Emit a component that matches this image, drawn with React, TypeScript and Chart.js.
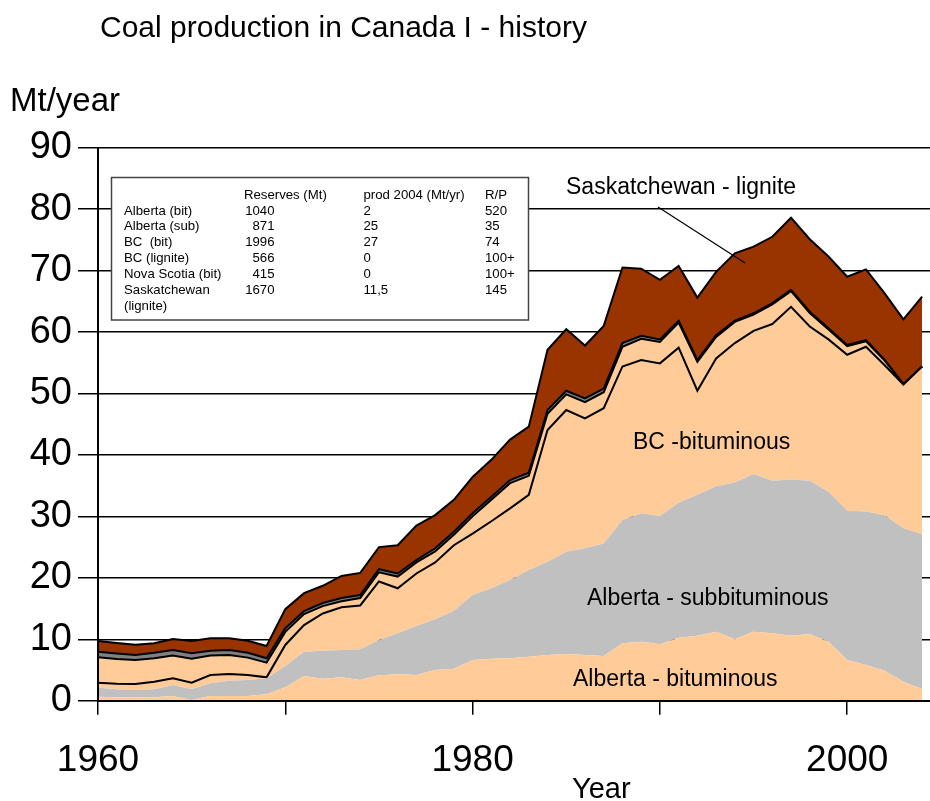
import { useEffect, useRef } from 'react';
import { Chart, registerables } from 'chart.js';

Chart.register(...registerables);

const years = [
  1960, 1961, 1962, 1963, 1964, 1965, 1966, 1967, 1968, 1969,
  1970, 1971, 1972, 1973, 1974, 1975, 1976, 1977, 1978, 1979,
  1980, 1981, 1982, 1983, 1984, 1985, 1986, 1987, 1988, 1989,
  1990, 1991, 1992, 1993, 1994, 1995, 1996, 1997, 1998, 1999,
  2000, 2001, 2002, 2003, 2004,
];

const albertaBituminous = [
  0.65, 0.55, 0.55, 0.55, 0.76, 0.11, 0.76, 0.76, 0.76, 1.04,
  2.18, 4.02, 3.58, 3.8, 3.37, 4.13, 4.3, 4.2, 5.0, 5.2,
  6.62, 6.84, 6.9, 7.16, 7.44, 7.6, 7.44, 7.27, 9.34, 9.6,
  9.18, 10.25, 10.58, 11.23, 9.99, 11.23, 10.97, 10.58, 10.86, 9.6,
  6.62, 5.81, 4.88, 3.1, 1.9,
];

const albertaSubbituminous = [
  1.47, 1.3, 1.19, 1.3, 1.8, 1.74, 2.07, 2.5, 2.61, 2.6,
  3.47, 3.96, 4.56, 4.45, 4.99, 5.75, 6.67, 7.96, 8.25, 9.45,
  10.58, 11.46, 12.74, 14.11, 15.16, 16.65, 17.36, 18.33, 20.06, 20.9,
  20.88, 21.95, 22.92, 23.67, 25.51, 25.67, 24.83, 25.42, 24.94, 24.4,
  24.28, 24.99, 25.32, 24.96, 25.2,
];

const bcBituminous = [
  0.81, 0.92, 0.97, 1.24, 1.08, 1.08, 1.35, 1.08, 0.81, 0.16,
  3.42, 4.32, 6.06, 6.95, 7.14, 9.52, 7.33, 8.54, 9.25, 10.65,
  10.0, 10.9, 11.66, 12.23, 21.46, 23.05, 21.16, 22.0, 25.0, 24.95,
  24.84, 25.25, 16.95, 20.8, 22.7, 23.3, 25.5, 28.1, 25.1, 24.8,
  25.4, 26.8, 24.4, 23.4, 27.3,
];

const novaScotia = [
  4.15, 4.03, 3.93, 3.81, 3.71, 3.88, 3.16, 3.11, 2.83, 2.4,
  2.13, 1.8, 1.2, 1.0, 1.2, 1.5, 1.9, 1.8, 1.8, 1.7,
  2.8, 3.5, 4.1, 3.1, 2.64, 2.55, 2.64, 2.6, 3.2, 3.45,
  3.5, 4.1, 4.7, 3.5, 3.45, 2.65, 3.2, 2.55, 2.2, 1.6,
  1.4, 0.9, 0.75, 0.05, 0,
];

const newBrunswick = [
  0.9, 0.9, 0.8, 0.9, 0.9, 0.9, 0.8, 0.8, 0.8, 0.7,
  0.6, 0.5, 0.5, 0.5, 0.5, 0.5, 0.5, 0.4, 0.5, 0.5,
  0.5, 0.5, 0.5, 0.5, 0.6, 0.6, 0.6, 0.6, 0.6, 0.5,
  0.4, 0.3, 0.3, 0.3, 0.2, 0.2, 0.2, 0.2, 0.2, 0.2,
  0.2, 0.2, 0.1, 0, 0,
];

const saskatchewanLignite = [
  1.74, 1.7, 1.68, 1.54, 1.79, 2.01, 2.01, 1.9, 1.96, 2.0,
  3.1, 2.9, 2.8, 3.6, 3.6, 3.6, 4.6, 5.6, 5.4, 5.2,
  5.9, 6.0, 6.6, 7.5, 9.8, 10.0, 8.6, 10.2, 12.3, 10.9,
  9.7, 8.9, 10.15, 10.3, 10.95, 10.85, 10.8, 11.75, 11.8, 11.7,
  11.1, 11.5, 10.85, 10.55, 11.35,
];

const xLabelYears = [1960, 1980, 2000];

const tableHeader = ['', 'Reserves (Mt)', 'prod 2004 (Mt/yr)', 'R/P'];
const tableRows = [
  ['Alberta (bit)', '1040', '2', '520'],
  ['Alberta (sub)', '871', '25', '35'],
  ['BC  (bit)', '1996', '27', '74'],
  ['BC (lignite)', '566', '0', '100+'],
  ['Nova Scotia (bit)', '415', '0', '100+'],
  ['Saskatchewan', '1670', '11,5', '145'],
  ['(lignite)', '', '', ''],
];

const FONT = '"Liberation Sans", Arial, Helvetica, sans-serif';

const textPlugin = {
  id: 'textPlugin',
  afterDraw(chart: any) {
    const ctx: CanvasRenderingContext2D = chart.ctx;
    ctx.save();
    ctx.fillStyle = '#000';
    ctx.textBaseline = 'alphabetic';
    ctx.textAlign = 'left';

    ctx.font = `30px ${FONT}`;
    ctx.fillText('Coal production in Canada I - history', 100, 37);

    ctx.font = `33px ${FONT}`;
    ctx.fillText('Mt/year', 10, 111);

    ctx.font = `29px ${FONT}`;
    ctx.fillText('Year', 572, 798);

    // table box
    ctx.fillStyle = '#fff';
    ctx.fillRect(111.5, 177.5, 417, 142.5);
    ctx.strokeStyle = '#444';
    ctx.lineWidth = 1.5;
    ctx.strokeRect(111.5, 177.5, 417, 142.5);

    ctx.fillStyle = '#000';
    ctx.font = `13.2px ${FONT}`;
    const colX = [124, 274.5, 363.5, 485];
    ctx.textAlign = 'left';
    ctx.fillText(tableHeader[1], 244, 199);
    ctx.fillText(tableHeader[2], 363.5, 199);
    ctx.fillText(tableHeader[3], 485, 199);
    tableRows.forEach((row, k) => {
      const y = 214.5 + k * 15.9;
      row.forEach((t, i) => {
        if (!t) return;
        ctx.textAlign = i === 1 ? 'right' : 'left';
        ctx.fillText(t, colX[i], y);
      });
    });

    // leader line
    ctx.strokeStyle = '#000';
    ctx.lineWidth = 1.2;
    ctx.beginPath();
    ctx.moveTo(658, 207);
    ctx.lineTo(745, 263);
    ctx.stroke();

    ctx.textAlign = 'left';
    ctx.font = `23px ${FONT}`;
    ctx.fillText('Saskatchewan - lignite', 566, 194);
    ctx.fillText('BC -bituminous', 633, 449);
    ctx.fillText('Alberta - subbituminous', 587, 605);
    ctx.fillText('Alberta - bituminous', 573, 685.5);
    ctx.restore();
  },
};

export default function App() {
  const ref = useRef<HTMLCanvasElement>(null);
  useEffect(() => {
    document.body.style.margin = '0';
    document.body.style.overflow = 'hidden';
    const canvas = ref.current!;
    const pts = (arr: number[]) => years.map((x, i) => ({ x, y: arr[i] }));
    const series = [
      { label: 'Alberta - bituminous', data: albertaBituminous, color: '#FFCC99', line: false },
      { label: 'Alberta - subbituminous', data: albertaSubbituminous, color: '#C0C0C0', line: false },
      { label: 'BC - bituminous', data: bcBituminous, color: '#FFCC99', line: true },
      { label: 'Nova Scotia - bituminous', data: novaScotia, color: '#FFCC99', line: true },
      { label: 'New Brunswick', data: newBrunswick, color: '#808080', line: true },
      { label: 'Saskatchewan - lignite', data: saskatchewanLignite, color: '#993300', line: true },
    ];
    const chart = new Chart(canvas, {
      type: 'line',
      data: {
        datasets: series.map((s, i) => ({
          label: s.label,
          data: pts(s.data),
          backgroundColor: s.color,
          borderColor: s.line ? '#000' : 'rgba(0,0,0,0)',
          borderWidth: s.line ? 2 : 0,
          borderJoinStyle: 'miter',
          fill: i === 0 ? 'origin' : '-1',
          pointRadius: 0,
          tension: 0,
        })) as any,
      },
      options: {
        animation: false,
        responsive: false,
        devicePixelRatio: 1,
        layout: { padding: { top: 147.7, left: 0, right: 0, bottom: 0 } },
        plugins: {
          legend: { display: false },
          tooltip: { enabled: false },
          title: { display: false },
        },
        scales: {
          x: {
            type: 'linear',
            min: 1960,
            max: 2004.42,
            afterFit: (s: any) => {
              s.height = 100.3;
            },
            ticks: {
              stepSize: 10,
              includeBounds: false,
              autoSkip: false,
              maxRotation: 0,
              padding: 24,
              color: '#000',
              font: { family: FONT, size: 37 },
              callback: (v: any) => (xLabelYears.includes(Number(v)) ? String(v) : ''),
            },
            grid: {
              drawOnChartArea: false,
              drawTicks: true,
              tickLength: 14,
              color: '#000',
              lineWidth: 1.5,
            },
            border: { display: true, color: '#000', width: 2, z: 1 },
          },
          y: {
            stacked: true,
            min: 0,
            max: 90,
            afterFit: (s: any) => {
              s.width = 98;
            },
            ticks: {
              stepSize: 10,
              padding: 6,
              color: '#000',
              font: { family: FONT, size: 38 },
              callback: (v: any) => String(v),
            },
            grid: { color: '#000', lineWidth: 1.5, tickLength: 20 },
            border: { display: true, color: '#000', width: 2, z: 1 },
          },
        },
      } as any,
      plugins: [textPlugin],
    });
    return () => chart.destroy();
  }, []);
  return <canvas ref={ref} width={930} height={801} style={{ display: 'block' }} />;
}
